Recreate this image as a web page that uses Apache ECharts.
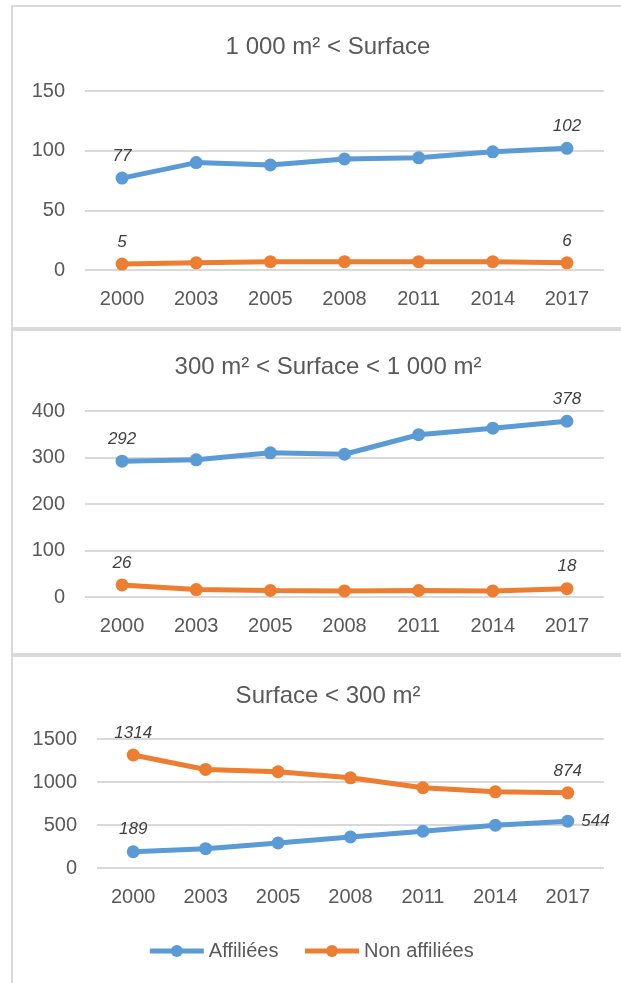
<!DOCTYPE html>
<html>
<head>
<meta charset="utf-8">
<script src="https://cdn.jsdelivr.net/npm/echarts@6/dist/echarts.min.js"></script>
<style>
  html, body { margin: 0; padding: 0; background: #fff; }
  #chart { width: 621px; height: 983px; }
</style>
</head>
<body>
<div id="chart"></div>
<script>
// categories (same for all three panels)
var years = ['2000', '2003', '2005', '2008', '2011', '2014', '2017']

// panel titles
var titles = ['1 000 m² < Surface', '300 m² < Surface < 1 000 m²', 'Surface < 300 m²']

// 1 000 m² < Surface
var bigAff = [77, 90, 88, 93, 94, 99, 102]
var bigNon = [5, 6, 7, 7, 7, 7, 6]

// 300 m² < Surface < 1 000 m²
var midAff = [292, 295, 310, 307, 349, 363, 378]
var midNon = [26, 16, 14, 13, 14, 13, 18]

// Surface < 300 m²
var smallAff = [189, 225, 291, 361, 427, 497, 544]
var smallNon = [1314, 1146, 1119, 1049, 933, 886, 874]

// y axis ticks per panel
var yMax = [150, 400, 1500]
var yStep = [50, 100, 500]

var FONT = '"Liberation Sans", Arial, sans-serif'
var BLUE = '#5B9BD5'
var ORANGE = '#ED7D31'
var GRID = '#D9D9D9'
var TEXT = '#595959'

// only first and last point carry a label
function withEndLabels (arr, lastPos) {
  return arr.map(function (v, i) {
    if (i === 0) return { value: v, label: { show: true } }
    if (i === arr.length - 1) return { value: v, label: { show: true, position: lastPos || 'top' } }
    return v
  })
}

function lineSeries (name, color, arr, idx, lastPos) {
  return {
    name: name,
    type: 'line',
    xAxisIndex: idx,
    yAxisIndex: idx,
    symbol: 'circle',
    symbolSize: 13,
    showAllSymbol: true,
    lineStyle: { width: 5, color: color },
    itemStyle: { color: color },
    label: {
      show: false,
      position: 'top',
      distance: 7,
      fontFamily: FONT,
      fontStyle: 'italic',
      fontSize: 17,
      color: '#404040'
    },
    data: withEndLabels(arr, lastPos)
  }
}

var grids = [
  { left: 85, right: 17, top: 91, bottom: 713 },
  { left: 85, right: 17, top: 411, bottom: 386 },
  { left: 97, right: 17, top: 739, bottom: 115 }
]

var chart = echarts.init(document.getElementById('chart'))

chart.setOption({
  backgroundColor: '#fff',
  animation: false,
  graphic: [
    { type: 'rect', shape: { x: 12, y: 6, width: 700, height: 322 }, style: { fill: 'none', stroke: GRID, lineWidth: 2 } },
    { type: 'rect', shape: { x: 12, y: 330, width: 700, height: 324 }, style: { fill: 'none', stroke: GRID, lineWidth: 2 } },
    { type: 'rect', shape: { x: 12, y: 656, width: 700, height: 400 }, style: { fill: 'none', stroke: GRID, lineWidth: 2 } }
  ],
  title: titles.map(function (t, i) {
    return {
      text: t,
      left: 323,
      textAlign: 'center',
      top: [30, 350, 679][i],
      textStyle: { fontFamily: FONT, fontSize: 24, fontWeight: 'normal', color: TEXT }
    }
  }),
  legend: {
    top: 936,
    left: 'center',
    itemWidth: 54,
    itemHeight: 15,
    itemGap: 24,
    lineStyle: { width: 5 },
    textStyle: { fontFamily: FONT, fontSize: 20, color: TEXT },
    data: ['Affiliées', 'Non affiliées']
  },
  grid: grids,
  xAxis: grids.map(function (g, i) {
    return {
      type: 'category',
      gridIndex: i,
      data: years,
      axisLine: { show: false },
      axisTick: { show: false },
      axisLabel: { margin: 19, fontFamily: FONT, fontSize: 20, color: TEXT }
    }
  }),
  yAxis: grids.map(function (g, i) {
    return {
      type: 'value',
      gridIndex: i,
      min: 0,
      max: yMax[i],
      interval: yStep[i],
      axisLine: { show: false },
      axisTick: { show: false },
      splitLine: { show: true, lineStyle: { color: GRID, width: 2 } },
      axisLabel: {
        margin: 20,
        fontFamily: FONT,
        fontSize: 20,
        color: TEXT,
        formatter: function (v) { return String(v) }
      }
    }
  }),
  series: [
    lineSeries('Affiliées', BLUE, bigAff, 0),
    lineSeries('Non affiliées', ORANGE, bigNon, 0),
    lineSeries('Affiliées', BLUE, midAff, 1),
    lineSeries('Non affiliées', ORANGE, midNon, 1),
    lineSeries('Affiliées', BLUE, smallAff, 2, 'right'),
    lineSeries('Non affiliées', ORANGE, smallNon, 2)
  ]
})
</script>
</body>
</html>
